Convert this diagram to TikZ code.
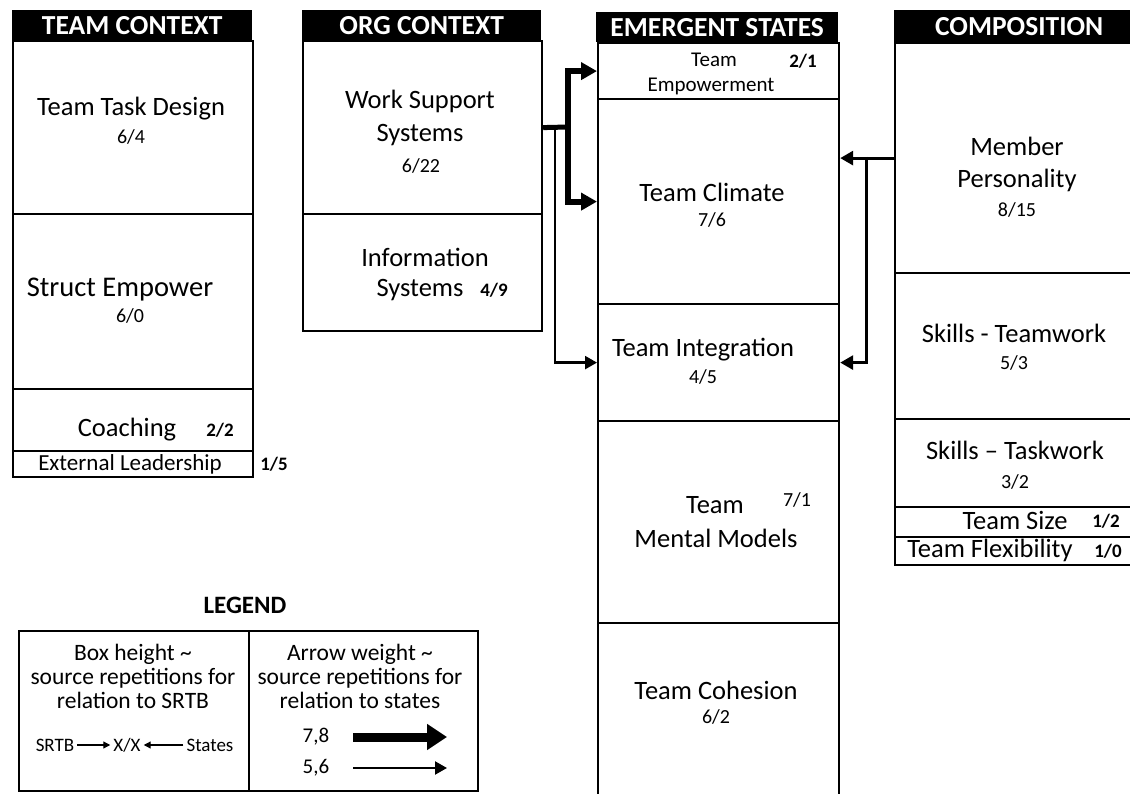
\documentclass[tikz,border=0pt]{standalone}
\usepackage{fontspec}
\setmainfont{Carlito}
\usetikzlibrary{arrows.meta}
\newcommand\bigf{\fontsize{26.5}{30}\selectfont}
\newcommand\empf{\fontsize{21}{26}\selectfont}
\newcommand\elf{\fontsize{23}{26}\selectfont}
\newcommand\midf{\fontsize{23.5}{24}\selectfont}
\newcommand\numf{\fontsize{20}{22}\selectfont}
\newcommand\bnumf{\fontsize{19}{22}\selectfont\bfseries}
\newcommand\hdrf{\bfseries\fontsize{27.5}{30}\selectfont}
\newcommand\smf{\fontsize{19}{21}\selectfont}
\begin{document}
\begin{tikzpicture}[x=1pt,y=-1pt,
  cell/.style={draw, line width=2.2pt, anchor=north west, inner sep=0pt},
  hdr/.style={fill=black, anchor=north west, inner sep=0pt, text=white, font=\hdrf},
  big/.style={font=\bigf, inner sep=0pt},
  emp/.style={font=\empf, inner sep=0pt},
  num/.style={font=\numf, inner sep=0pt},
  bnum/.style={font=\bnumf, inner sep=0pt},
  leg/.style={font=\midf, inner sep=0pt, align=center},
  sm/.style={font=\smf, inner sep=0pt},
  thickarr/.style={line width=6pt, -{Triangle[length=16pt,width=17pt]}},
  thinarr/.style={line width=2.4pt, -{Triangle[length=12pt,width=13pt]}},
  medarr/.style={line width=3pt, -{Triangle[length=13pt,width=14pt]}},
  legthick/.style={line width=9pt, -{Triangle[length=20pt,width=25pt]}},
  legthin/.style={line width=2.2pt, -{Triangle[length=12pt,width=13pt]}},
  tinyarr/.style={line width=1.2pt, -{Triangle[length=7pt,width=7pt]}, shorten >=3pt, shorten <=3pt}
]
\clip (0,0) rectangle (1130,794);
\fill[white] (0,0) rectangle (1130,794);

% ---------- TEAM CONTEXT ----------
\node[hdr, minimum width=240pt, minimum height=30pt] (tch) at (12,10) {TEAM CONTEXT};
\node[cell, minimum width=240pt, minimum height=173pt] (ttd) at (12,40) {};
\node[cell, minimum width=240pt, minimum height=175pt] (se) at (12,213) {};
\node[cell, minimum width=240pt, minimum height=62pt] (co) at (12,388) {};
\node[cell, minimum width=240pt, minimum height=26pt] (el) at (12,450) {};
\node[big] (ttdA) at (131,109) {Team Task Design};
\node[num] (ttdB) at (131,137) {6/4};
\node[font=\fontsize{28.5}{32}\selectfont, inner sep=0pt] (seA) at (120,290) {Struct Empower};
\node[num] (seB) at (130,316) {6/0};
\node[big] (coA) at (127,430) {Coaching};
\node[bnum] (coB) at (220,430) {2/2};
\node[font=\elf, inner sep=0pt] (elA) at (130,464) {External Leadership};
\node[bnum] (elB) at (274,464) {1/5};

% ---------- ORG CONTEXT ----------
\node[hdr, minimum width=239pt, minimum height=30pt] (och) at (302,10) {ORG CONTEXT};
\node[cell, minimum width=239pt, minimum height=173pt] (wss) at (302,40) {};
\node[cell, minimum width=239pt, minimum height=117pt] (is) at (302,213) {};
\node[big] (wssA) at (420,101) {Work Support};
\node[big] (wssB) at (420,135) {Systems};
\node[num] (wssC) at (421,166) {6/22};
\node[big] (isA) at (425,257) {Information};
\node[big] (isB) at (420,290) {Systems};
\node[bnum] (isC) at (494,290) {4/9};

% ---------- EMERGENT STATES ----------
\node[hdr, minimum width=242pt, minimum height=30pt] (esh) at (596,12) {EMERGENT STATES};
\node[cell, minimum width=241pt, minimum height=56pt] (te) at (597,42) {};
\node[cell, minimum width=241pt, minimum height=205pt] (tcl) at (597,98) {};
\node[cell, minimum width=241pt, minimum height=117pt] (ti) at (597,303) {};
\node[cell, minimum width=241pt, minimum height=202pt] (tmm) at (597,420) {};
\node[cell, minimum width=241pt, minimum height=200pt] (tco) at (597,622) {};
\node[emp] (teA) at (714,60) {Team};
\node[bnum] (teB) at (803,61) {2/1};
\node[emp] (teC) at (711,86) {Empowerment};
\node[big] (tclA) at (712,192) {Team Climate};
\node[num] (tclB) at (712,220) {7/6};
\node[big] (tiA) at (703,350) {Team Integration};
\node[num] (tiB) at (703,377) {4/5};
\node[big] (tmmA) at (715,505) {Team};
\node[num] (tmmB) at (797,500) {7/1};
\node[big] (tmmC) at (716,538) {Mental Models};
\node[big] (tcoA) at (716,690) {Team Cohesion};
\node[num] (tcoB) at (716,717) {6/2};

% ---------- COMPOSITION ----------
\node[hdr, minimum width=250pt, minimum height=32pt] (cph) at (894,10) {COMPOSITION};
\node[cell, minimum width=250pt, minimum height=230pt] (mp) at (894,42) {};
\node[cell, minimum width=250pt, minimum height=146pt] (stw) at (894,272) {};
\node[cell, minimum width=250pt, minimum height=88pt] (stk) at (894,418) {};
\node[cell, minimum width=250pt, minimum height=30pt] (ts) at (894,506) {};
\node[cell, minimum width=250pt, minimum height=28pt] (tf) at (894,536) {};
\node[big] (mpA) at (1017,146) {Member};
\node[big] (mpB) at (1017,180) {Personality};
\node[num] (mpC) at (1017,210) {8/15};
\node[big] (stwA) at (1014,333) {Skills - Teamwork};
\node[num] (stwB) at (1014,363) {5/3};
\node[big] (stkA) at (1015,450) {Skills – Taskwork};
\node[num] (stkB) at (1015,482) {3/2};
\node[big] (tsA) at (1015,520) {Team Size};
\node[bnum] (tsB) at (1106,521) {1/2};
\node[big] (tfA) at (990,550) {Team Flexibility};
\node[bnum] (tfB) at (1108,551) {1/0};

% ---------- connectors ----------
\coordinate (jw) at (568,127);
\coordinate (jt) at (555,127);
\draw[line width=5pt] (wss.east) -- (jw);
\draw[thickarr] (jw) |- (te.west);
\draw[thickarr] (jw) |- (tcl.west);
\draw[thinarr] (jt) |- (ti.west);
\coordinate (jr) at (866,157);
\draw[medarr] (mp.west) -- (tcl.east |- mp.west);
\draw[medarr] (jr) |- (ti.east);

% ---------- LEGEND ----------
\node[font=\bfseries\fontsize{25}{28}\selectfont, inner sep=0pt] (lgt) at (245,605) {LEGEND};
\node[cell, minimum width=230pt, minimum height=160pt] (lga) at (18,630) {};
\node[cell, minimum width=229pt, minimum height=160pt] (lgb) at (248,630) {};
\node[leg] (lgaT) at (133,676) {Box height \textasciitilde\\source repetitions for\\relation to SRTB};
\node[leg] (lgbT) at (360,676) {Arrow weight \textasciitilde\\source repetitions for\\relation to states};
\node[sm] (s1) at (55,745) {SRTB};
\node[sm] (s2) at (127,745) {X/X};
\node[sm] (s3) at (210,745) {States};
\draw[tinyarr] (s1.east) -- (s2.west);
\draw[tinyarr] (s3.west) -- (s2.east);
\node[font=\fontsize{21}{24}\selectfont, inner sep=0pt] (l78) at (316,737) {7,8};
\node[font=\fontsize{21}{24}\selectfont, inner sep=0pt] (l56) at (316,768) {5,6};
\coordinate (a1s) at (353,737);
\coordinate (a1e) at (447,737);
\coordinate (a2s) at (353,768);
\coordinate (a2e) at (447,768);
\draw[legthick] (a1s) -- (a1e);
\draw[legthin] (a2s) -- (a2e);
\end{tikzpicture}
\end{document}
